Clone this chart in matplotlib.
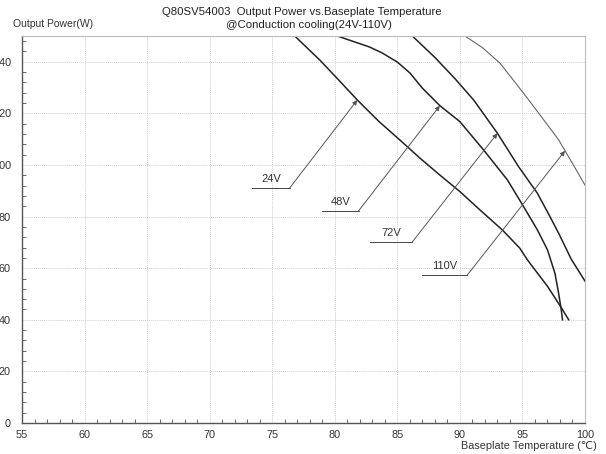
import matplotlib
matplotlib.use("Agg")
import matplotlib.pyplot as plt
from matplotlib.ticker import MultipleLocator

plt.rcParams['font.family'] = ['Liberation Sans', 'DejaVu Sans']

# derating curves (baseplate temp degC, output power W)
t_24v = [55, 76.8, 78.8, 80.3, 81.8, 83.5, 85.2, 86.8, 88.4, 90.0, 91.6, 93.4, 94.8, 95.4, 97.0, 98.0, 98.7]
p_24v = [150, 150, 140.7, 133, 125.2, 117, 109.7, 102.7, 96.1, 89.7, 82.6, 74.8, 67.7, 63.2, 53, 45.5, 40]

t_48v = [55, 80.2, 82.8, 83.8, 85.0, 86.0, 87.0, 88.4, 90.0, 91.9, 93.8, 95.1, 96.2, 97.0, 97.6, 97.9, 98.1, 98.2]
p_48v = [150, 150, 145.7, 143.4, 139.9, 135.7, 129.8, 123, 116.8, 105.8, 94.2, 83.8, 74.8, 67.1, 58, 50, 44, 40]

t_72v = [55, 86.2, 88.0, 89.6, 91.1, 93.0, 94.7, 96.2, 97.2, 97.9, 98.9, 100]
p_72v = [150, 150, 141.7, 133.5, 125.2, 112.3, 99.3, 89.0, 80.0, 73.5, 63.5, 55]

t_110v = [55, 90.4, 91.8, 93.2, 94.5, 95.5, 96.7, 97.9, 99.0, 100]
p_110v = [150, 150, 145.5, 139.5, 131.5, 125.2, 117.5, 109.7, 100.6, 92.2]

# label text, underline x-range, underline y, arrow tip
labels = ["24V", "48V", "72V", "110V"]
notes = [((73.4, 76.4), 91.1, (81.8, 125.2)),
         ((79.0, 81.9), 82.2, (88.4, 123)),
         ((82.8, 86.2), 70.2, (93.0, 112.3)),
         ((87.0, 90.6), 57.4, (98.4, 105.5))]

fig = plt.figure(figsize=(6.06, 4.54), dpi=100)
ax = fig.add_axes([22/606, 31/454, 563/606, 387/454])

ax.plot(t_24v, p_24v, color='#222222', lw=1.1)
ax.plot(t_48v, p_48v, color='#222222', lw=1.1)
ax.plot(t_72v, p_72v, color='#222222', lw=1.1)
ax.plot(t_110v, p_110v, color='#666666', lw=0.8)

for lab, ((x0, x1), y, tip) in zip(labels, notes):
    ax.plot([x0, x1], [y, y], color='#444444', lw=0.7)
    ax.annotate('', xy=tip, xytext=(x1, y),
                arrowprops=dict(arrowstyle='-|>', color='#555555', lw=0.7,
                                mutation_scale=7, shrinkA=0, shrinkB=0))
    ax.text((x0 + x1) / 2, y + 1.5, lab, ha='center', va='bottom',
            fontsize=8, color='#333333')

ax.set_xlim(55, 100)
ax.set_ylim(0, 150)
ax.xaxis.set_major_locator(MultipleLocator(5))
ax.xaxis.set_minor_locator(MultipleLocator(1))
ax.yaxis.set_major_locator(MultipleLocator(20))
ax.yaxis.set_minor_locator(MultipleLocator(4))
ax.tick_params(which='both', direction='in', colors='#555555', labelcolor='#333333',
               labelsize=7.8, top=False, right=False)
ax.tick_params(which='major', length=0, pad=5)
ax.tick_params(axis='y', which='major', pad=8)
ax.tick_params(which='minor', length=3, width=0.6)
ax.grid(True, which='major', color='#cfcfcf', lw=0.7, ls=(0, (1, 1)))

for side in ['left', 'bottom']:
    ax.spines[side].set_color('#555555')
    ax.spines[side].set_linewidth(1.0)
for side in ['top', 'right']:
    ax.spines[side].set_color('#bbbbbb')
    ax.spines[side].set_linewidth(0.8)

fig.text(302/606, 1 - 12/454, 'Q80SV54003  Output Power vs.Baseplate Temperature',
         ha='center', va='center', fontsize=8.2, color='#222222')
fig.text(309/606, 1 - 25.5/454, '@Conduction cooling(24V-110V)',
         ha='center', va='center', fontsize=8.2, color='#222222')
fig.text(13/606, 1 - 24/454, 'Output Power(W)', ha='left', va='center',
         fontsize=7.5, color='#333333')
fig.text(597/606, 1 - 446/454, 'Baseplate Temperature (\u2103)', ha='right', va='center',
         fontsize=7.8, color='#333333')

fig.savefig('out.png', dpi=100)
